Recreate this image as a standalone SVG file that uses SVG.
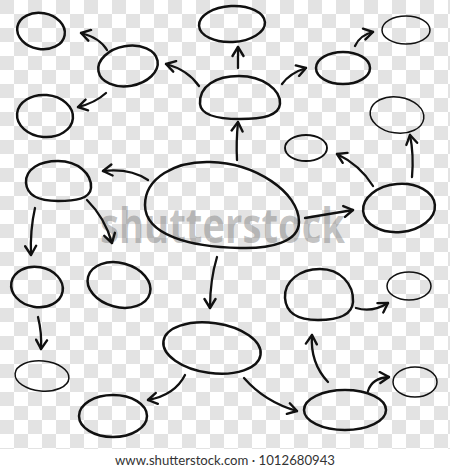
<svg xmlns="http://www.w3.org/2000/svg" width="450" height="470" viewBox="0 0 450 470">
<defs>
<pattern id="chk" patternUnits="userSpaceOnUse" width="28" height="28">
<rect width="28" height="28" fill="#ffffff"/>
<rect width="14" height="14" fill="#e3e3e3"/>
<rect x="14" y="14" width="14" height="14" fill="#e3e3e3"/>
</pattern>
<marker id="ah" markerUnits="userSpaceOnUse" markerWidth="14" markerHeight="14" viewBox="0 0 14 14" refX="12" refY="7" orient="auto">
<path d="M3,1.5 L12,7 L3,12.5" fill="none" stroke="#111" stroke-width="2.4" stroke-linecap="round" stroke-linejoin="round"/>
</marker>
</defs>
<style>
.n{fill:none;stroke:#111;stroke-width:2.5}
.t{fill:none;stroke:#111;stroke-width:1.5}
.m{fill:none;stroke:#111;stroke-width:1.9}
.a{fill:none;stroke:#111;stroke-width:2.3;stroke-linecap:round;marker-end:url(#ah)}
</style>
<rect x="0" y="0" width="450" height="449" fill="url(#chk)"/>
<rect x="0" y="449" width="450" height="21" fill="#ffffff"/>
<text x="100" y="243" font-family="'Open Sans','DejaVu Sans',sans-serif" font-weight="bold" font-size="48" fill="#7a7a7a" fill-opacity="0.45" textLength="245" lengthAdjust="spacingAndGlyphs">shutterstock</text>
<g id="nodes">
<g id="n1"><ellipse class="n" cx="41" cy="31" rx="24" ry="18" transform="rotate(10 41 31)"/></g>
<g id="n2"><ellipse class="n" cx="128" cy="66" rx="30" ry="20" transform="rotate(-10 128 66)"/></g>
<g id="n3"><ellipse class="n" cx="45" cy="116" rx="28" ry="21" transform="rotate(5 45 116)"/></g>
<g id="n4"><ellipse class="n" cx="232" cy="24" rx="33" ry="18" transform="rotate(-3 232 24)"/></g>
<g id="n5"><path class="n" d="M200,104 C199,86 216,76 239,76 C263,76 281,90 280,104 C279,116 262,119 240,119 C216,119 201,115 200,104 Z"/></g>
<g id="n6"><ellipse class="n" cx="343" cy="68" rx="27" ry="16"/></g>
<g id="n7"><ellipse class="t" cx="406" cy="30" rx="24" ry="14"/></g>
<g id="n8"><ellipse class="t" cx="397" cy="115" rx="27" ry="18" transform="rotate(8 397 115)"/></g>
<g id="n9"><ellipse class="m" cx="306" cy="148" rx="21" ry="13"/></g>
<g id="n10"><path class="n" d="M145,205 C145,178 175,161 210,162 C255,163 299,192 299,222 C299,242 270,249 240,248 C190,247 145,235 145,205 Z"/></g>
<g id="n11"><path class="n" d="M26,183 C25,169 40,161 58,161 C78,161 92,174 91,188 C90,199 75,201 58,201 C38,201 27,195 26,183 Z"/></g>
<g id="n12"><ellipse class="n" cx="37" cy="287" rx="26" ry="20" transform="rotate(10 37 287)"/></g>
<g id="n13"><ellipse class="n" cx="119" cy="285" rx="32" ry="22" transform="rotate(15 119 285)"/></g>
<g id="n14"><ellipse class="n" cx="399" cy="208" rx="36" ry="24" transform="rotate(-5 399 208)"/></g>
<g id="n15"><path class="n" d="M285,298 C284,281 300,269 320,269 C340,269 354,284 353,302 C352,317 335,320 318,320 C298,320 286,313 285,298 Z"/></g>
<g id="n16"><ellipse class="t" cx="409" cy="286" rx="22" ry="14"/></g>
<g id="n17"><ellipse class="t" cx="42" cy="376" rx="27" ry="15" transform="rotate(5 42 376)"/></g>
<g id="n18"><ellipse class="n" cx="113" cy="416" rx="34" ry="21"/></g>
<g id="n19"><ellipse class="n" cx="212" cy="348" rx="49" ry="25" transform="rotate(8 212 348)"/></g>
<g id="n20"><ellipse class="n" cx="345" cy="410" rx="41" ry="20"/></g>
<g id="n21"><ellipse class="t" cx="415" cy="382" rx="22" ry="15"/></g>
</g>
<g id="connectors">
<path class="a" d="M107,50 Q100,38 81,33"/>
<path class="a" d="M106,93 Q95,103 78,107"/>
<path class="a" d="M199,86 Q188,70 166,64"/>
<path class="a" d="M238,68 L238,47"/>
<path class="a" d="M282,84 Q290,73 306,68"/>
<path class="a" d="M355,46 Q360,35 373,32"/>
<path class="a" d="M237,160 Q236,142 238,122"/>
<path class="a" d="M412,177 Q414,155 410,135"/>
<path class="a" d="M373,186 Q360,165 337,154"/>
<path class="a" d="M305,218 L353,210"/>
<path class="a" d="M148,180 Q130,168 103,171"/>
<path class="a" d="M35,208 Q30,230 31,255"/>
<path class="a" d="M87,200 Q105,218 112,243"/>
<path class="a" d="M217,257 Q210,280 210,308"/>
<path class="a" d="M38,317 Q42,333 41,349"/>
<path class="a" d="M185,375 Q175,395 148,400"/>
<path class="a" d="M244,378 Q265,402 297,411"/>
<path class="a" d="M328,382 Q310,363 312,335"/>
<path class="a" d="M368,391 Q372,378 389,377"/>
<path class="a" d="M356,308 Q372,313 388,303"/>
</g>
<text x="225" y="465" text-anchor="middle" font-family="Lato,'Open Sans',sans-serif" font-size="14" fill="#333333" textLength="220" lengthAdjust="spacingAndGlyphs">www.shutterstock.com · 1012680943</text>
</svg>
